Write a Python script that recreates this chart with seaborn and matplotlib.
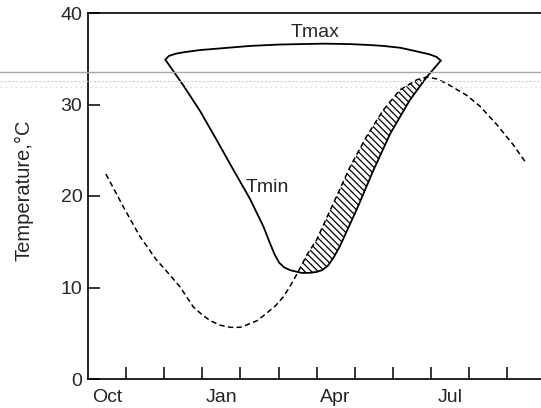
import numpy as np
import matplotlib
matplotlib.use("Agg")
import matplotlib.pyplot as plt
from matplotlib.lines import Line2D
import seaborn as sns

# x = months counted from 1 October (0 = start of Oct)
mean_month = [0.47, 0.93, 1.36, 1.80, 2.10, 2.41, 2.76, 3.00, 3.20, 3.45, 3.73, 4.00, 4.16,
              4.45, 4.69, 4.92, 5.13, 5.30, 5.50, 5.75, 6.00, 6.44, 6.88, 7.31, 7.75, 8.19,
              8.63, 8.89, 9.15, 9.41, 9.94, 10.29, 10.73, 11.16, 11.50]
mean_temp = [22.4, 18.8, 15.6, 13.0, 11.6, 10.1, 7.9, 7.0, 6.4, 5.9, 5.65, 5.65, 5.9,
             6.4, 7.2, 8.0, 9.0, 10.1, 11.6, 13.6, 15.2, 19.2, 23.2, 26.5, 29.4, 31.6,
             32.7, 33.0, 32.8, 32.3, 31.0, 29.8, 27.8, 25.6, 23.6]

tmin_month = [2.03, 2.50, 2.94, 3.38, 3.81, 4.25, 4.60, 4.78, 4.90, 5.02, 5.15, 5.30, 5.50,
              5.60, 5.80, 6.00, 6.15, 6.30, 6.45, 6.61, 7.05, 7.49, 7.93, 8.45, 8.89, 9.26]
tmin_temp = [34.9, 32.1, 29.3, 26.1, 22.9, 19.7, 16.7, 14.8, 13.6, 12.7, 12.2, 11.9, 11.7,
             11.6, 11.6, 11.7, 11.9, 12.4, 13.3, 14.5, 18.5, 22.8, 26.8, 30.5, 33.0, 34.8]

tmax_month = [2.03, 2.12, 2.30, 2.50, 2.94, 3.38, 4.25, 5.00, 5.56, 6.20, 6.88, 7.40, 7.75,
              8.20, 8.63, 8.95, 9.15, 9.26]
tmax_temp = [34.9, 35.3, 35.55, 35.7, 35.95, 36.1, 36.4, 36.55, 36.6, 36.65, 36.6, 36.5, 36.4,
             36.2, 35.8, 35.5, 35.2, 34.8]

month_labels = ["Oct", "Jan", "Apr", "Jul"]
month_label_pos = [0.5, 3.5, 6.5, 9.5]
month_ticks = list(range(1, 12))
temp_ticks = [0, 10, 20, 30, 40]

# months where the mean curve lies above Tmin (hatched band)
band_start, band_end = 5.50, 8.89

sns.set_style("ticks")
plt.rcParams["font.family"] = ["Liberation Sans", "DejaVu Sans"]
plt.rcParams["hatch.linewidth"] = 0.9

fig = plt.figure(figsize=(5.41, 4.08), dpi=100)
ax = fig.add_axes([88 / 541, 29 / 408, 453 / 541, 366 / 408])

# hatched area between mean temperature and Tmin
mm, mt = np.array(mean_month), np.array(mean_temp)
tm, tt = np.array(tmin_month), np.array(tmin_temp)
sel_m = (mm >= band_start) & (mm <= band_end)
sel_t = (tm >= band_start) & (tm <= band_end)
ax.fill(np.concatenate([mm[sel_m], tm[sel_t][::-1]]),
        np.concatenate([mt[sel_m], tt[sel_t][::-1]]),
        facecolor="white", edgecolor="black", hatch="\\\\\\\\\\", linewidth=0)

sns.lineplot(x=mean_month, y=mean_temp, ax=ax, color="black", lw=1.1,
             estimator=None, sort=False)
ax.lines[-1].set_dashes((3.5, 2.2))
sns.lineplot(x=tmin_month, y=tmin_temp, ax=ax, color="black", lw=1.3, estimator=None, sort=False)
sns.lineplot(x=tmax_month, y=tmax_temp, ax=ax, color="black", lw=1.3, estimator=None, sort=False)

ax.text(5.96, 37.9, "Tmax", fontsize=14, ha="center", va="center")
ax.text(4.15, 20.9, "Tmin", fontsize=14, ha="left", va="center")

ax.set_xlim(0, 453 / 38.1)
ax.set_ylim(0, 40)
ax.set_xticks(month_ticks)
ax.set_xticklabels([])
ax.set_xticks(month_label_pos, minor=True)
ax.set_xticklabels(month_labels, minor=True)
ax.set_yticks(temp_ticks)
ax.set_yticklabels([str(t) for t in temp_ticks])
ax.tick_params(axis="both", which="major", direction="in", length=8.6, width=1.1,
               labelsize=14, color="black")
ax.tick_params(axis="x", which="minor", length=0, labelsize=14, pad=7)
ax.tick_params(axis="y", pad=4)

ax.set_ylabel("Temperature,°C", fontsize=14.5)
ax.yaxis.set_label_coords(-0.121, 0.515)

for side in ["left", "bottom", "top"]:
    ax.spines[side].set_linewidth(1.2)
    ax.spines[side].set_color("black")
ax.spines["right"].set_visible(False)

# faint scanner streaks across the page
fig.add_artist(Line2D([0, 1], [1 - 72 / 408] * 2, transform=fig.transFigure,
                      color="#a8a8a8", lw=1.0))
fig.add_artist(Line2D([0, 1], [1 - 81 / 408] * 2, transform=fig.transFigure,
                      color="#d0d0d0", lw=0.8, ls=(0, (2, 1.5))))
fig.add_artist(Line2D([0, 1], [1 - 87 / 408] * 2, transform=fig.transFigure,
                      color="#dadada", lw=0.8, ls=(0, (1.5, 3))))

fig.savefig("out.png", dpi=100)
